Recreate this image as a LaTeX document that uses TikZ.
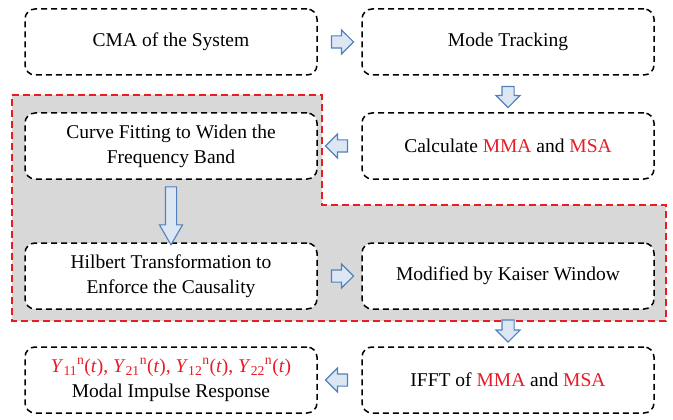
\documentclass[tikz,border=0pt]{standalone}
\usepackage{fontspec}
\setmainfont{Liberation Serif}
\usetikzlibrary{shapes.arrows,calc}
\definecolor{hotred}{RGB}{232,28,36}
\definecolor{arrowfill}{RGB}{221,231,244}
\definecolor{arrowline}{RGB}{79,129,189}
\definecolor{shade}{RGB}{216,216,216}
\tikzset{
	stepbox/.style={draw=black, line width=1.5pt, dash pattern=on 6pt off 4pt,
		rounded corners=10pt, fill=white, minimum width=292pt, minimum height=66pt,
		align=center, font=\fontsize{19.5}{25}\selectfont},
	blockarrow/.style={single arrow, draw=arrowline, fill=arrowfill, line width=1.1pt,
		inner xsep=0pt, inner ysep=5.5pt, minimum width=23pt, single arrow head extend=6pt,
		single arrow tip angle=90},
}
\newcommand{\hl}[1]{{\color{hotred}#1}}

\begin{document}
\begin{tikzpicture}[x=1pt, y=-1pt]
		\useasboundingbox (0,0) rectangle (673,420);
		\draw[fill=shade, draw=none] (12,95) -- (322,95) -- (322,205) -- (666,205) -- (666,321) -- (12,321) -- cycle;
		\draw[hotred, line width=2pt, dash pattern=on 7pt off 4pt] (12,95) -- (322,95) -- (322,205) -- (666,205) -- (666,321) -- (12,321) -- cycle;
		\node[stepbox] (cma) at (171,42) {CMA of the System};
		\node[stepbox] (track) at (508,42) {Mode Tracking};
		\node[stepbox] (calc) at (508,146) {Calculate \hl{MMA} and \hl{MSA}};
		\node[stepbox] (fit) at (171,146) {Curve Fitting to Widen the\\Frequency Band};
		\node[stepbox] (hilbert) at (171,276) {Hilbert Transformation to\\Enforce the Causality};
		\node[stepbox] (kaiser) at (508,276) {Modified by Kaiser Window};
		\node[stepbox] (ifft) at (508,380) {IFFT of \hl{MMA} and \hl{MSA}};
		\node[stepbox] (modal) at (171,380) {\hl{\textit{Y}\textsubscript{11}\textsuperscript{n}(\textit{t}), \textit{Y}\textsubscript{21}\textsuperscript{n}(\textit{t}), \textit{Y}\textsubscript{12}\textsuperscript{n}(\textit{t}), \textit{Y}\textsubscript{22}\textsuperscript{n}(\textit{t})}\\Modal Impulse Response};
	% block arrows between the steps
		\node[blockarrow, minimum height=22pt] (a1) at ($(cma.east)!0.5!(track.west)$) {};
		\node[blockarrow, minimum height=21pt, rotate=-90] (a2) at ($(track.south)!0.5!(calc.north)$) {};
		\node[blockarrow, minimum height=22pt, rotate=180] (a3) at ($(calc.west)!0.5!(fit.east)$) {};
		\node[blockarrow, minimum height=58pt, inner ysep=5pt, minimum width=22pt, rotate=-90, single arrow tip angle=60] (a4) at ($(fit.south)!0.5!(hilbert.north)$) {};
		\node[blockarrow, minimum height=22pt] (a5) at ($(hilbert.east)!0.5!(kaiser.west)$) {};
		\node[blockarrow, minimum height=22pt, rotate=-90] (a6) at ($(kaiser.south)!0.5!(ifft.north)$) {};
		\node[blockarrow, minimum height=22pt, rotate=180] (a7) at ($(ifft.west)!0.5!(modal.east)$) {};
	\end{tikzpicture}
\end{document}
